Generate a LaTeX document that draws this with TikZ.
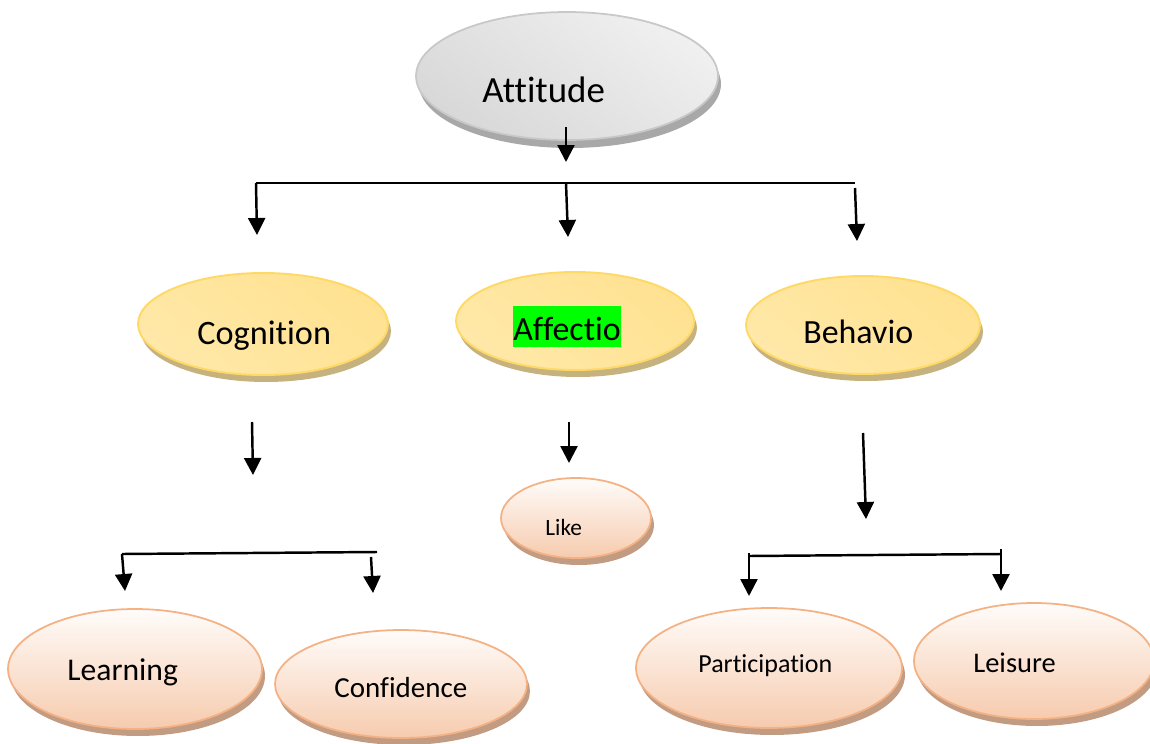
\documentclass[tikz,border=0pt]{standalone}
\usepackage{fontspec}
\setmainfont{Carlito}[Ligatures={NoCommon}]
\usetikzlibrary{arrows.meta,shapes.geometric,shadows}
\definecolor{ybord}{HTML}{FFD966}
\definecolor{ydark}{HTML}{FFE291}
\definecolor{ylight}{HTML}{FFF6DA}
\definecolor{ybot}{HTML}{FFE8A8}
\definecolor{yshad}{HTML}{C6B27F}
\definecolor{gbord}{HTML}{C8C8C8}
\definecolor{gtop}{HTML}{F0F0F0}
\definecolor{gbot}{HTML}{D8D8D8}
\definecolor{gshad}{HTML}{A8A8A8}
\definecolor{pbord}{HTML}{F4B183}
\definecolor{ptop}{HTML}{FFFCFA}
\definecolor{pbot}{HTML}{F6CBAE}
\definecolor{pshad}{HTML}{C19C83}
\definecolor{hlgreen}{HTML}{00FF00}
\tikzset{
  ellbase/.style={ellipse, inner sep=0pt, outer sep=0pt},
  greyell/.style={ellbase, draw=gbord, line width=1pt, shading=axis,
    top color=gtop, bottom color=gbot, shading angle=-35,
    drop shadow={shadow xshift=0.06cm, shadow yshift=-0.16cm, fill=gshad, opacity=1}},
  yellowell/.style={ellbase, draw=ybord, line width=1.1pt, shading=axis,
    top color=ydark, middle color=ylight, bottom color=ybot, shading angle=-40,
    drop shadow={shadow xshift=0.06cm, shadow yshift=-0.14cm, fill=yshad, opacity=1}},
  peachell/.style={ellbase, draw=pbord, line width=1pt, shading=axis,
    top color=ptop, bottom color=pbot,
    drop shadow={shadow xshift=0.06cm, shadow yshift=-0.14cm, fill=pshad, opacity=1}},
  lbl/.style={inner sep=0pt, anchor=base west, text=black},
  conn/.style={line width=1.4pt, black},
  arr/.style={conn, -{Triangle[width=0.34cm,length=0.34cm]}},
}
\newcommand{\fsz}[1]{\fontsize{#1}{#1}\selectfont}
\begin{document}
\begin{tikzpicture}[x=0.02cm, y=-0.02cm]
\useasboundingbox (0,0) rectangle (1150,744);
\clip (0,0) rectangle (1150,744);
% ellipses
\node[greyell, minimum width=6.04cm, minimum height=2.56cm] (att) at (567,76) {};
\node[yellowell, minimum width=5.0cm, minimum height=2.04cm] (cog) at (263,324) {};
\node[yellowell, minimum width=4.76cm, minimum height=1.96cm] (aff) at (575,321) {};
\node[yellowell, minimum width=4.68cm, minimum height=1.96cm] (beh) at (863,325) {};
\node[peachell, minimum width=3.0cm, minimum height=1.6cm] (like) at (576,518) {};
\node[peachell, minimum width=5.08cm, minimum height=2.4cm] (lea) at (135,669) {};
\node[peachell, minimum width=5.04cm, minimum height=2.16cm] (con) at (401,684) {};
\node[peachell, minimum width=5.32cm, minimum height=2.4cm] (par) at (769,668) {};
\node[peachell, minimum width=4.8cm, minimum height=2.32cm] (lei) at (1034,661) {};
% labels
\node[lbl, font=\fsz{21pt}] (attT) at (482,102) {Attitude};
\node[lbl, font=\fsz{19.5pt}] (cogT) at (197,344) {Cognition};
\node[lbl, font=\fsz{19.3pt}, fill=hlgreen, text height=0.68cm, text depth=0.14cm] (affT) at (513,340) {Affectio};
\node[lbl, font=\fsz{19.3pt}] (behT) at (803,343) {Behavio};
\node[lbl, font=\fsz{13.3pt}] (likeT) at (545,535) {Like};
\node[lbl, font=\fsz{18pt}] (leaT) at (67,680) {Learning};
\node[lbl, font=\fsz{16.5pt}] (conT) at (334,697) {Confidence};
\node[lbl, font=\fsz{14.8pt}] (parT) at (698,672) {Participation};
\node[lbl, font=\fsz{16.2pt}] (leiT) at (973,672) {Leisure};
% connector end points
\coordinate (a1s) at (566,127); \coordinate (a1e) at (566,162);
\coordinate (hL) at (256,183); \coordinate (hM) at (566,183); \coordinate (hR) at (855,183);
\coordinate (a2e) at (257,235);
\coordinate (a3e) at (568,237);
\coordinate (a4s) at (855,188); \coordinate (a4e) at (857,241);
\coordinate (a5s) at (252,422); \coordinate (a5e) at (253,475);
\coordinate (a6s) at (569,422); \coordinate (a6e) at (569,463);
\coordinate (a7s) at (863,433); \coordinate (a7e) at (866,519);
\coordinate (bL1) at (122,554); \coordinate (bL2) at (377,552);
\coordinate (a8e) at (125,591);
\coordinate (a9s) at (371,557); \coordinate (a9e) at (373,593);
\coordinate (bR1) at (749,556); \coordinate (bR2) at (1001,554);
\coordinate (a10s) at (749,553); \coordinate (a10e) at (749,596);
\coordinate (a11s) at (1001,549); \coordinate (a11e) at (1001,591);
% connectors
\draw[arr] (a1s) -- (a1e);
\draw[conn] (hL) -- (hR);
\draw[arr] (hL) -- (a2e);
\draw[arr] (hM) -- (a3e);
\draw[arr] (a4s) -- (a4e);
\draw[arr] (a5s) -- (a5e);
\draw[arr] (a6s) -- (a6e);
\draw[arr] (a7s) -- (a7e);
\draw[conn] (bL1) -- (bL2);
\draw[arr] (bL1) -- (a8e);
\draw[arr] (a9s) -- (a9e);
\draw[conn] (bR1) -- (bR2);
\draw[arr] (a10s) -- (a10e);
\draw[arr] (a11s) -- (a11e);
\end{tikzpicture}
\end{document}
